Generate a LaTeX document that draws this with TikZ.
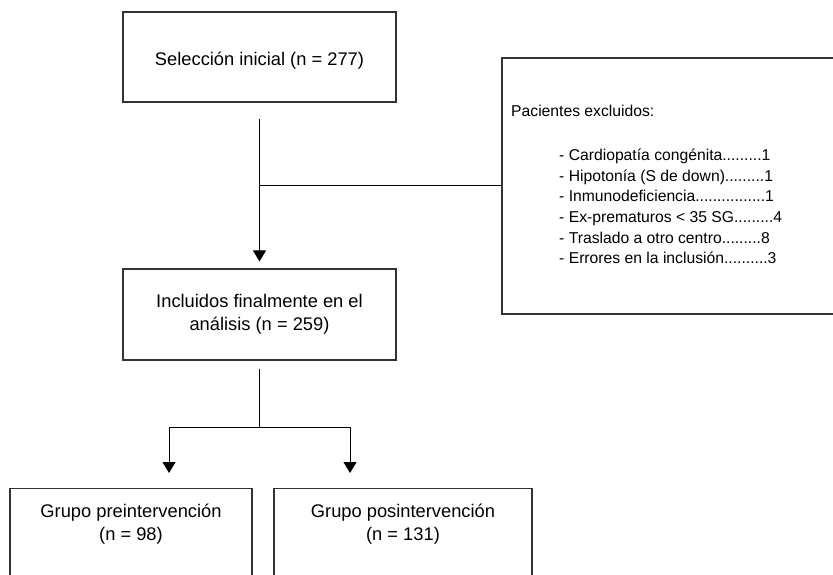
\documentclass[tikz,border=0pt]{standalone}
\usepackage{fontspec}
\setmainfont{Liberation Sans}
\usetikzlibrary{arrows.meta,positioning}
\begin{document}
\begin{tikzpicture}[x=1pt,y=-1pt,
  font=\fontsize{18.3}{23}\selectfont,
  caja/.style={draw=black!80,line width=1.1pt,align=center,inner sep=0pt},
  texto/.style={align=center,inner sep=0pt},
  lista/.style={align=left,inner sep=0pt,font=\fontsize{15.7}{20.6}\selectfont},
  linea/.style={draw,line width=1pt},
  flecha/.style={linea,-{Triangle[width=13pt,length=11pt]}}]
\useasboundingbox (0,0) rectangle (833,575);
% cajas
\node[caja,minimum width=273pt,minimum height=90pt,text height=19pt,text depth=1pt] (sel) at (259.5,57)
  {Selección inicial (n = 277)};
\node[caja,minimum width=273pt,minimum height=91pt] (incl) at (259.5,314.5)
  {Incluidos finalmente en el\\análisis (n = 259)};
\node[caja,minimum width=340pt,minimum height=256pt] (excl) at (672,186) {};
\node[lista,anchor=west] (tit) at (511,111) {Pacientes excluidos:};
\node[lista,below right=32pt and 48pt of tit.south west] (motivos)
  {- Cardiopatía congénita.........1\\
   - Hipotonía (S de down).........1\\
   - Inmunodeficiencia................1\\
   - Ex-prematuros < 35 SG.........4\\
   - Traslado a otro centro.........8\\
   - Errores en la inclusión..........3};
\node[caja,minimum width=242pt,minimum height=90pt,anchor=north] (pre) at (131,488) {};
\node[texto,below=16pt of pre.north] (pretxt) {Grupo preintervención\\(n = 98)};
\node[caja,minimum width=258pt,minimum height=90pt,anchor=north] (post) at (403,488) {};
\node[texto,below=16pt of post.north] (posttxt) {Grupo posintervención\\(n = 131)};
% conectores
\coordinate (rama) at (sel.south |- excl.west);
\coordinate (div) at (259.5,427);
\draw[flecha,shorten <=16pt,shorten >=7pt] (sel.south) -- (incl.north);
\draw[linea] (rama) -- (excl.west);
\draw[linea,shorten <=8pt] (incl.south) -- (div);
\draw[flecha,shorten >=15pt] (div) -| ([xshift=38pt]pre.north);
\draw[flecha,shorten >=15pt] (div) -| ([xshift=-53pt]post.north);
\end{tikzpicture}
\end{document}
